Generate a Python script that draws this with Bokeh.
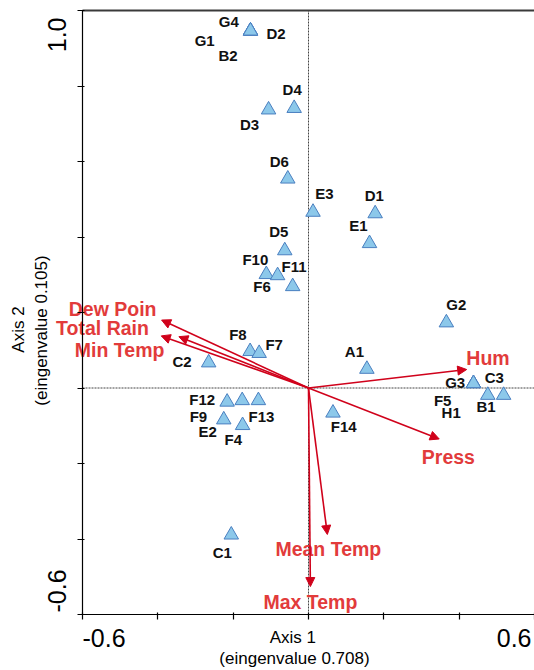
import math
from bokeh.plotting import figure
from bokeh.models import (ColumnDataSource, Label, Arrow, NormalHead, FixedTicker,
                          LinearAxis)
from bokeh.core.properties import value
from bokeh.embed import file_html
from bokeh.resources import INLINE

# ---------------- data ----------------
site_names = ["G4", "D2", "G1", "B2", "D4", "D3", "D6", "E3", "D1", "E1", "D5",
              "F10", "F11", "F6", "G2", "F8", "F7", "C2", "A1", "G3", "F5", "H1",
              "B1", "C3", "F12", "E2", "F13", "F9", "F4", "F14", "C1"]
site_axis1 = [-0.154, -0.154, -0.154, -0.154, -0.038, -0.106, -0.055, 0.012, 0.177, 0.162, -0.063,
              -0.112, -0.082, -0.042, 0.366, -0.155, -0.131, -0.265, 0.155, 0.438, 0.438, 0.438,
              0.476, 0.518, -0.216, -0.176, -0.133, -0.225, -0.175, 0.065, -0.205]
site_axis2 = [0.946, 0.946, 0.946, 0.946, 0.741, 0.737, 0.554, 0.466, 0.462, 0.383, 0.364,
              0.301, 0.298, 0.269, 0.173, 0.097, 0.092, 0.067, 0.050, 0.012, 0.012, 0.012,
              -0.019, -0.019, -0.037, -0.033, -0.033, -0.084, -0.099, -0.066, -0.389]

env_names = ["Dew Poin", "Total Rain", "Min Temp", "Hum", "Press", "Mean Temp", "Max Temp"]
env_axis1 = [-0.390, -0.391, -0.344, 0.420, 0.347, 0.050, 0.005]
env_axis2 = [0.180, 0.138, 0.136, 0.049, -0.135, -0.388, -0.526]

x_ticks = [-0.6, -0.4, -0.2, 0.0, 0.2, 0.4, 0.6]
y_ticks = [-0.6, -0.4, -0.2, 0.0, 0.2, 0.4, 0.6, 0.8, 1.0]
x_tick_labels = ["-0.6", "0.6"]
y_tick_labels = ["-0.6", "1.0"]
x_title = ["Axis 1", "(eingenvalue 0.708)"]
y_title = ["Axis 2", "(eingenvalue 0.105)"]

# ---------------- layout (label placement, px, screen y down) ----------------
site_label_offsets = {
    "G4": (-21.7, -9.1), "D2": (25.5, 2.6), "G1": (-45.8, 9.2), "B2": (-22.5, 24.2),
    "D4": (-2, -18.5), "D3": (-19.1, 14.9), "D6": (-8.5, -17.4), "E3": (11.5, -18.1),
    "D1": (-0.8, -18.4), "E1": (-11, -17.8), "D5": (-6, -19.1), "F10": (-11, -14.8),
    "F11": (16.5, -9.1), "F6": (-30.6, 0), "G2": (10, -18), "F8": (-12.2, -16.7),
    "F7": (15, -9), "C2": (-26.6, -1.4), "A1": (-12.5, -18), "G3": (-18.3, -0.5),
    "F5": (-30.8, 16.8), "H1": (-22.3, 28.8), "B1": (-1.7, 11.4), "C3": (-9.3, -17.6),
    "F12": (-25, -2.9), "E2": (-34.5, 30.9), "F13": (3, 15.6), "F9": (-25.3, -3.7),
    "F4": (-9.3, 13.7), "F14": (10.8, 13.2), "C1": (-9, 17.6),
}
env_label_offsets = {
    "Dew Poin": (-49, -11.5), "Total Rain": (-58.7, -8), "Min Temp": (-59.3, 13.8),
    "Hum": (21.3, -12), "Press": (9.2, 18), "Mean Temp": (1, 14.2), "Max Temp": (0, 15.4),
}

W, H = 534, 670
BOX_L, BOX_R, BOX_T, BOX_B = 82, 534, 10, 614   # plot box inside the canvas (px)

FONT = "Liberation Sans"
ARROW_C = "#d0021b"
ELABEL_C = "#e23b3b"

# ranges so that the plotted box [-0.6,0.6]x[-0.6,1.0] lands on the box above,
# with the frame covering the whole canvas (texts outside the box stay unclipped)
ppx = (BOX_R - BOX_L) / (x_ticks[-1] - x_ticks[0])
ppy = (BOX_B - BOX_T) / (y_ticks[-1] - y_ticks[0])
x_range = (x_ticks[0] - BOX_L / ppx, x_ticks[-1] + (W - BOX_R) / ppx)
y_range = (y_ticks[0] - (H - BOX_B) / ppy, y_ticks[-1] + BOX_T / ppy)

p = figure(width=W, height=H, x_range=x_range, y_range=y_range,
           output_backend="svg", toolbar_location=None,
           min_border=0, min_border_left=0, min_border_right=0,
           min_border_top=0, min_border_bottom=0)
p.grid.visible = False
p.background_fill_color = "white"
p.border_fill_color = "white"
p.outline_line_color = None

for ax, ticks, loc in ((p.xaxis[0], x_ticks, y_ticks[0]), (p.yaxis[0], y_ticks, x_ticks[0])):
    ax.ticker = FixedTicker(ticks=ticks)
    ax.fixed_location = loc
    ax.bounds = (ticks[0], ticks[-1])
    ax.major_label_text_color = None
    ax.major_label_standoff = 0
    ax.axis_line_color = "black"
    ax.axis_line_width = 1.2
    ax.major_tick_line_color = "black"
    ax.major_tick_line_width = 1.2
    ax.major_tick_out = 5
    ax.major_tick_in = 2
    ax.minor_tick_line_color = None

# top and right edges of the plot box
top_axis = LinearAxis(fixed_location=y_ticks[-1], bounds=(x_ticks[0], x_ticks[-1]),
                      ticker=FixedTicker(ticks=[]), major_label_text_color=None,
                      axis_line_color="#3a3a3a", axis_line_width=2,
                      major_tick_line_color=None, minor_tick_line_color=None)
p.add_layout(top_axis, "above")
right_axis = LinearAxis(fixed_location=x_ticks[-1] - 0.5 / ppx, bounds=(y_ticks[0], y_ticks[-1]),
                        ticker=FixedTicker(ticks=[]), major_label_text_color=None,
                        axis_line_color="#d0d0d0", axis_line_width=1,
                        major_tick_line_color=None, minor_tick_line_color=None)
p.add_layout(right_axis, "right")

# dotted crosshair through the origin
p.segment(x0=[x_ticks[0], 0.0], y0=[0.0, y_ticks[0]], x1=[x_ticks[-1], 0.0], y1=[0.0, y_ticks[-1]],
          line_color="#444444", line_width=1, line_dash="2 1")

# sites
site_src = ColumnDataSource(dict(
    name=site_names, x=site_axis1, y=site_axis2,
    dx=[site_label_offsets[n][0] for n in site_names],
    dy=[site_label_offsets[n][1] for n in site_names],
))
p.scatter("x", "y", source=site_src, marker="triangle", size=14.5,
          fill_color="#8cc8ea", line_color="#4a7fc0", line_width=1)
p.text("x", "y", text="name", source=site_src, x_offset="dx", y_offset="dy",
       text_font=value(FONT), text_font_style="bold", text_font_size="15px",
       text_color="#111111", text_align="center", text_baseline="middle")

# environmental arrows
env_src = ColumnDataSource(dict(
    name=env_names, x=env_axis1, y=env_axis2,
    dx=[env_label_offsets[n][0] for n in env_names],
    dy=[env_label_offsets[n][1] for n in env_names],
))
p.add_layout(Arrow(end=NormalHead(size=9, fill_color=ARROW_C, line_color=ARROW_C, line_width=1),
                   x_start=0, y_start=0, x_end="x", y_end="y", source=env_src,
                   line_color=ARROW_C, line_width=1.6))
p.text("x", "y", text="name", source=env_src, x_offset="dx", y_offset="dy",
       text_font=value(FONT), text_font_style="bold", text_font_size="19.5px",
       text_color=ELABEL_C, text_align="center", text_baseline="middle")

# tick labels
tick_style = dict(text_font=FONT, text_font_size="25px", text_color="black",
                  text_baseline="alphabetic")
p.add_layout(Label(x=x_ticks[0], y=y_ticks[0], text=x_tick_labels[0], x_offset=0, y_offset=-23.5,
                   text_align="left", **tick_style))
p.add_layout(Label(x=x_ticks[-1], y=y_ticks[0], text=x_tick_labels[1], x_offset=-3, y_offset=-23.5,
                   text_align="right", **tick_style))
p.add_layout(Label(x=x_ticks[0], y=y_ticks[0], text=y_tick_labels[0], x_offset=-26, y_offset=2,
                   angle=math.pi / 2, text_align="left", **tick_style))
p.add_layout(Label(x=x_ticks[0], y=y_ticks[-1], text=y_tick_labels[1], x_offset=-26, y_offset=-7,
                   angle=math.pi / 2, text_align="right", **tick_style))

# axis titles
title_style = dict(text_font=FONT, text_font_size="17px", text_color="black",
                   text_baseline="alphabetic", text_align="center")
p.add_layout(Label(x=0, y=y_ticks[0], text=x_title[0], x_offset=-15.6, y_offset=-22.7,
                   **title_style))
p.add_layout(Label(x=0, y=y_ticks[0], text=x_title[1], x_offset=-14, y_offset=-44,
                   **title_style))
p.add_layout(Label(x=x_ticks[0], y=0, text=y_title[0], x_offset=-64, y_offset=58.5,
                   angle=math.pi / 2, **title_style))
p.add_layout(Label(x=x_ticks[0], y=0, text=y_title[1], x_offset=-41, y_offset=57.5,
                   angle=math.pi / 2, **title_style))

open("out.html", "w").write(file_html(p, INLINE))
